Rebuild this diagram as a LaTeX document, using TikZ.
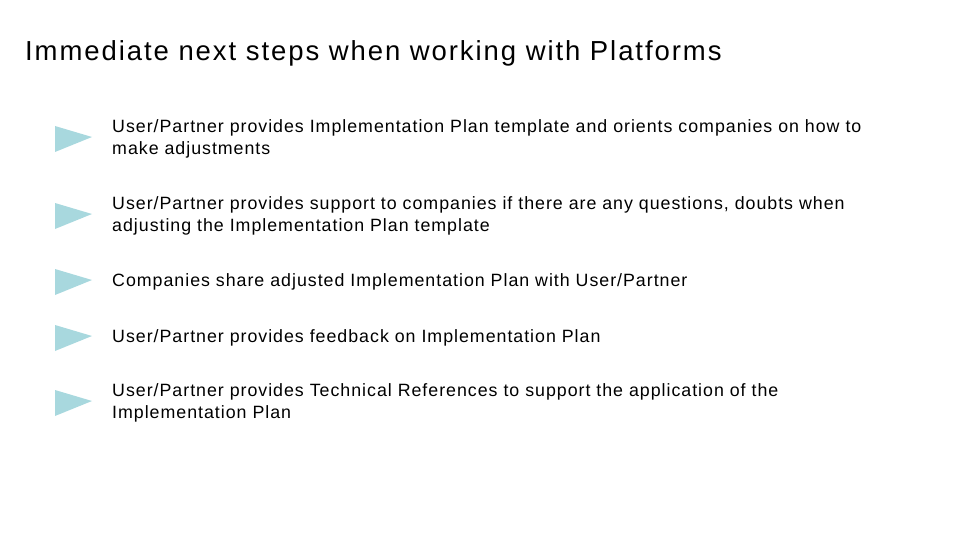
\documentclass[tikz,border=0pt]{standalone}
\usepackage{fontspec}
\setmainfont{Liberation Sans}
\newfontfamily\bodyfont[LetterSpace=5.5]{Liberation Sans}
\newfontfamily\titlefont[LetterSpace=7]{Liberation Sans}
\definecolor{tri}{HTML}{A8D8DE}
\begin{document}
\begin{tikzpicture}[x=1pt,y=-1pt]
\useasboundingbox (0,0) rectangle (960,540);
\tikzset{itemtext/.style={anchor=west,align=left,inner sep=0pt,font=\bodyfont\fontsize{17.8}{21.5}\selectfont},
 bullet/.style={fill=tri}}
\node[anchor=base west,inner sep=0pt,font=\titlefont\fontsize{27.5}{32}\selectfont] (title) at (25,61) {Immediate next steps when working with Platforms};
\foreach \y/\t [count=\i] in {139/{User/Partner provides Implementation Plan template and orients companies on how to\\make adjustments},
 216/{User/Partner provides support to companies if there are any questions, doubts when\\adjusting the Implementation Plan template},
 282/{Companies share adjusted Implementation Plan with User/Partner},
 338/{User/Partner provides feedback on Implementation Plan},
 403/{User/Partner provides Technical References to support the application of the\\Implementation Plan}}{
 \fill[bullet] (55,\y-13) -- (92,\y-2) -- (55,\y+13) -- cycle;
 \node[itemtext] (t\i) at (112,\y) {\t};
}
\end{tikzpicture}
\end{document}
